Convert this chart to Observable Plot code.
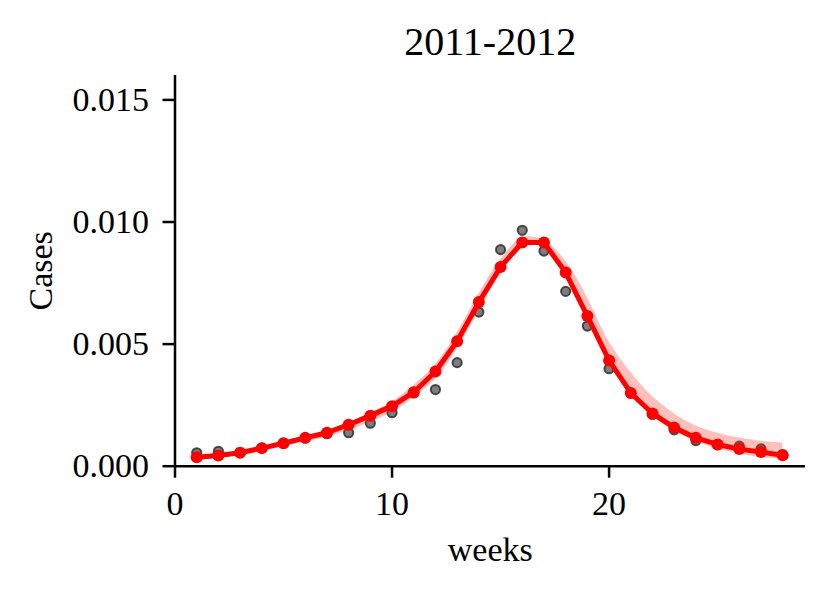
<!DOCTYPE html>
<html>
<head>
<meta charset="utf-8">
<script src="https://cdn.jsdelivr.net/npm/d3@7"></script>
<script src="https://cdn.jsdelivr.net/npm/@observablehq/plot@0.6"></script>
<style>
  html, body { margin: 0; padding: 0; background: #fff; }
</style>
</head>
<body>
<div id="chart"></div>
<script>
const weeks = [1,2,3,4,5,6,7,8,9,10,11,12,13,14,15,16,17,18,19,20,21,22,23,24,25,26,27,28];
const observed = [0.00055,0.00061,0.00055,0.00074,0.00093,0.00115,0.00133,0.00137,0.00176,0.00219,0.00300,0.00314,0.00424,0.00631,0.00887,0.00966,0.00881,0.00716,0.00574,0.00399,0.00299,0.00212,0.00149,0.00105,0.00088,0.00082,0.00071,0.00047];
const fitted = [0.00037,0.00044,0.00055,0.00074,0.00094,0.00116,0.00137,0.00170,0.00207,0.00246,0.00303,0.00388,0.00512,0.00672,0.00816,0.00916,0.00916,0.00793,0.00615,0.00433,0.00300,0.00216,0.00158,0.00116,0.00089,0.00070,0.00058,0.00045];
const bandLow = [0.00026,0.00034,0.00044,0.00061,0.00080,0.00099,0.00119,0.00145,0.00180,0.00220,0.00280,0.00355,0.00480,0.00635,0.00785,0.00895,0.00900,0.00790,0.00610,0.00430,0.00300,0.00205,0.00145,0.00100,0.00070,0.00050,0.00036,0.00028];
const bandHigh = [0.00040,0.00048,0.00060,0.00080,0.00102,0.00124,0.00146,0.00178,0.00218,0.00262,0.00330,0.00415,0.00545,0.00705,0.00845,0.00935,0.00925,0.00840,0.00690,0.00510,0.00385,0.00285,0.00215,0.00165,0.00135,0.00115,0.00102,0.00095];
const xTicks = [0, 10, 20];
const yTicks = [0, 0.005, 0.010, 0.015];
const titleText = "2011-2012";

const obsData = weeks.map((w, i) => ({week: w, value: observed[i]}));
const fitData = weeks.map((w, i) => ({week: w, value: fitted[i]}));
const bandData = weeks.map((w, i) => ({week: w, lo: bandLow[i], hi: bandHigh[i]}));

const font = "'Liberation Serif', 'DejaVu Serif', serif";

const chart = Plot.plot({
  width: 829,
  height: 592,
  marginLeft: 174.5,
  marginRight: 24,
  marginTop: 75,
  marginBottom: 126.3,
  style: {fontSize: "34px", fontFamily: font, color: "#000", background: "#fff"},
  x: {domain: [0, 29.05]},
  y: {domain: [0, 0.016]},
  marks: [
    Plot.dot(obsData, {x: "week", y: "value", r: 4.6, fill: "#707070", fillOpacity: 0.9, stroke: "#303030", strokeOpacity: 0.85, strokeWidth: 2}),
    Plot.areaY(bandData, {x: "week", y1: "lo", y2: "hi", fill: "#ff2a1a", fillOpacity: 0.3, curve: "catmull-rom"}),
    Plot.line(fitData, {x: "week", y: "value", stroke: "#ff0000", strokeWidth: 5}),
    Plot.dot(fitData, {x: "week", y: "value", r: 6, fill: "#ff0000"}),
    Plot.ruleX([0], {stroke: "#000", strokeWidth: 2.5}),
    Plot.ruleY([0], {stroke: "#000", strokeWidth: 2.5}),
    Plot.axisX({ticks: xTicks, tickSize: 12, tickPadding: 13, strokeWidth: 2.5, label: null, tickFormat: d3.format("d"), fontSize: 34}),
    Plot.axisY({ticks: yTicks, tickSize: 12, tickPadding: 14, strokeWidth: 2.5, label: null, tickFormat: d3.format(".3f"), fontSize: 34}),
    Plot.text([titleText], {frameAnchor: "top", dy: -49.4, lineAnchor: "top", fontSize: 40, fill: "#000"}),
    Plot.text(["weeks"], {frameAnchor: "bottom", dy: 70.2, lineAnchor: "top", fontSize: 34, fill: "#000"}),
    Plot.text(["Cases"], {frameAnchor: "left", dx: -134, rotate: -90, textAnchor: "middle", lineAnchor: "middle", fontSize: 34, fill: "#000"})
  ]
});
document.getElementById("chart").appendChild(chart);
</script>
</body>
</html>
